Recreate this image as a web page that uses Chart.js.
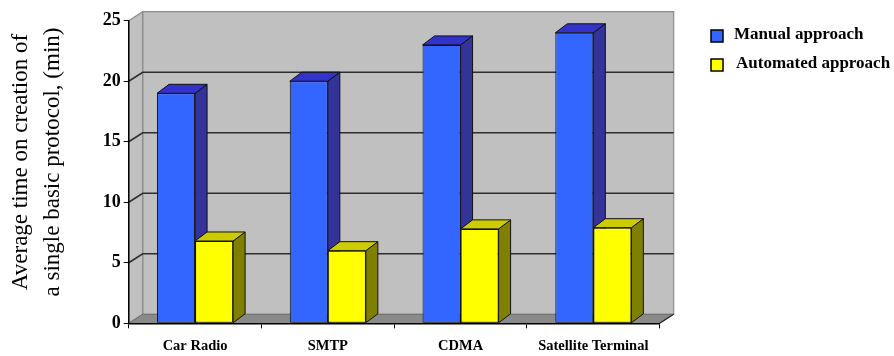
<!DOCTYPE html>
<html>
<head>
<meta charset="utf-8">
<script src="https://cdn.jsdelivr.net/npm/chart.js@4/dist/chart.umd.min.js"></script>
<style>
  html, body { margin: 0; padding: 0; background: #ffffff; }
  #wrap { width: 894px; height: 356px; position: relative; }
</style>
</head>
<body>
<div id="wrap"><canvas id="chart" width="894" height="356"></canvas></div>
<script>
// Protocols compared
const categories = ['Car Radio', 'SMTP', 'CDMA', 'Satellite Terminal'];
// Minutes spent creating one basic protocol
const manualMinutes = [19, 20, 23, 24];
const automatedMinutes = [6.8, 6, 7.8, 7.9];
const yTicks = [0, 5, 10, 15, 20, 25];
const seriesNames = ['Manual approach', 'Automated approach'];
const axisTitle = ['Average time on creation of', 'a single basic protocol, (min)'];

const SERIF = '"Liberation Serif", "Times New Roman", serif';

// Depth offsets of the 3-D box and of the columns
const WALL_DX = 14, WALL_DY = -9;
const BAR_DX = 12, BAR_DY = -9;

const faceColors = [
  { front: '#3366ff', top: '#3333cc', side: '#333399' },
  { front: '#ffff00', top: '#cccc00', side: '#808000' }
];

function poly(ctx, pts, fill, stroke, lw) {
  ctx.beginPath();
  ctx.moveTo(pts[0][0], pts[0][1]);
  for (let i = 1; i < pts.length; i++) ctx.lineTo(pts[i][0], pts[i][1]);
  ctx.closePath();
  if (fill) { ctx.fillStyle = fill; ctx.fill(); }
  if (stroke) { ctx.strokeStyle = stroke; ctx.lineWidth = lw || 1; ctx.stroke(); }
}

const box3d = {
  id: 'box3d',
  beforeDraw(chart) {
    const { ctx, chartArea: a, scales } = chart;
    const L = a.left, R = a.right, T = a.top, B = a.bottom;
    ctx.save();
    // back wall
    poly(ctx, [[L + WALL_DX, T + WALL_DY], [R + WALL_DX, T + WALL_DY], [R + WALL_DX, B + WALL_DY], [L + WALL_DX, B + WALL_DY]], '#c0c0c0', '#8c8c8c', 1.2);
    // left side wall
    poly(ctx, [[L, T], [L + WALL_DX, T + WALL_DY], [L + WALL_DX, B + WALL_DY], [L, B]], '#c0c0c0', '#8c8c8c', 1.2);
    // floor
    poly(ctx, [[L, B], [R, B], [R + WALL_DX, B + WALL_DY], [L + WALL_DX, B + WALL_DY]], '#8a8a8a', null);
    ctx.strokeStyle = '#707070';
    ctx.lineWidth = 1;
    ctx.beginPath();
    ctx.moveTo(L, B); ctx.lineTo(L + WALL_DX, B + WALL_DY); ctx.lineTo(R + WALL_DX, B + WALL_DY);
    ctx.stroke();
    ctx.strokeStyle = '#202020';
    ctx.lineWidth = 1.2;
    ctx.beginPath();
    ctx.moveTo(R, B); ctx.lineTo(R + WALL_DX, B + WALL_DY);
    ctx.stroke();
    // gridlines on the walls
    const y = scales.y;
    ctx.strokeStyle = '#2e2e2e';
    ctx.lineWidth = 1.6;
    yTicks.forEach(v => {
      if (v <= y.min || v >= y.max) return;
      const py = y.getPixelForValue(v);
      ctx.beginPath();
      ctx.moveTo(L, py);
      ctx.lineTo(L + WALL_DX, py + WALL_DY);
      ctx.lineTo(R + WALL_DX, py + WALL_DY);
      ctx.stroke();
    });
    ctx.restore();
  },
  beforeDatasetsDraw(chart) {
    const { ctx } = chart;
    ctx.save();
    chart.data.datasets.forEach((ds, di) => {
      const meta = chart.getDatasetMeta(di);
      const c = faceColors[di];
      meta.data.forEach(el => {
        const p = el.getProps(['x', 'y', 'width', 'base'], true);
        const l = p.x - p.width / 2, r = p.x + p.width / 2;
        // right side face
        poly(ctx, [[r, p.y], [r + BAR_DX, p.y + BAR_DY], [r + BAR_DX, p.base + BAR_DY], [r, p.base]], c.side, '#111111', 1);
        // top face
        poly(ctx, [[l, p.y], [r, p.y], [r + BAR_DX, p.y + BAR_DY], [l + BAR_DX, p.y + BAR_DY]], c.top, '#111111', 1);
      });
    });
    ctx.restore();
  },
  afterDraw(chart) {
    const { ctx } = chart;
    ctx.save();
    // vertical axis title, two lines read bottom to top
    ctx.fillStyle = '#000000';
    ctx.font = '23px ' + SERIF;
    ctx.textAlign = 'center';
    ctx.textBaseline = 'middle';
    const cy = 162;
    axisTitle.forEach((line, i) => {
      ctx.save();
      ctx.translate(21 + i * 32, cy);
      ctx.rotate(-Math.PI / 2);
      ctx.fillText(line, 0, 0);
      ctx.restore();
    });
    // legend
    ctx.font = 'bold 17px ' + SERIF;
    ctx.textAlign = 'left';
    chart.data.datasets.forEach((ds, i) => {
      const yc = 36 + i * 29;
      ctx.fillStyle = ds.backgroundColor;
      ctx.fillRect(711, yc - 6, 12, 12);
      ctx.strokeStyle = '#000000';
      ctx.lineWidth = 1.5;
      ctx.strokeRect(711, yc - 6, 12, 12);
      ctx.fillStyle = '#000000';
      ctx.fillText(ds.label, 734 + i * 2, yc - 1);
    });
    ctx.restore();
  }
};

new Chart(document.getElementById('chart'), {
  type: 'bar',
  data: {
    labels: categories,
    datasets: [
      { label: seriesNames[0], data: manualMinutes, backgroundColor: faceColors[0].front },
      { label: seriesNames[1], data: automatedMinutes, backgroundColor: faceColors[1].front }
    ]
  },
  options: {
    responsive: false,
    animation: false,
    devicePixelRatio: 1,
    layout: { padding: { left: 0, right: 234.3, top: 20.7, bottom: 0 } },
    datasets: {
      bar: {
        categoryPercentage: 0.573,
        barPercentage: 1,
        borderColor: '#111111',
        borderWidth: 1,
        borderSkipped: false
      }
    },
    plugins: {
      legend: { display: false },
      tooltip: { enabled: false }
    },
    scales: {
      x: {
        offset: true,
        grid: { display: true, drawOnChartArea: false, drawTicks: true, tickLength: 5, color: '#000000', offset: true },
        border: { display: true, color: '#000000', width: 1.5 },
        ticks: {
          color: '#000000',
          padding: 9,
          maxRotation: 0,
          autoSkip: false,
          font: { family: SERIF, size: 14.5, weight: 'bold' }
        },
        afterFit(scale) { scale.height = 32.7; }
      },
      y: {
        min: 0,
        max: 25,
        afterBuildTicks(scale) { scale.ticks = yTicks.map(v => ({ value: v })); },
        grid: { display: true, drawOnChartArea: false, drawTicks: true, tickLength: 5, color: '#000000' },
        border: { display: true, color: '#000000', width: 1.5 },
        ticks: {
          color: '#000000',
          padding: 3,
          font: { family: SERIF, size: 18, weight: 'bold' }
        },
        afterFit(scale) { scale.width = 128.7; }
      }
    }
  },
  plugins: [box3d]
});
</script>
</body>
</html>
